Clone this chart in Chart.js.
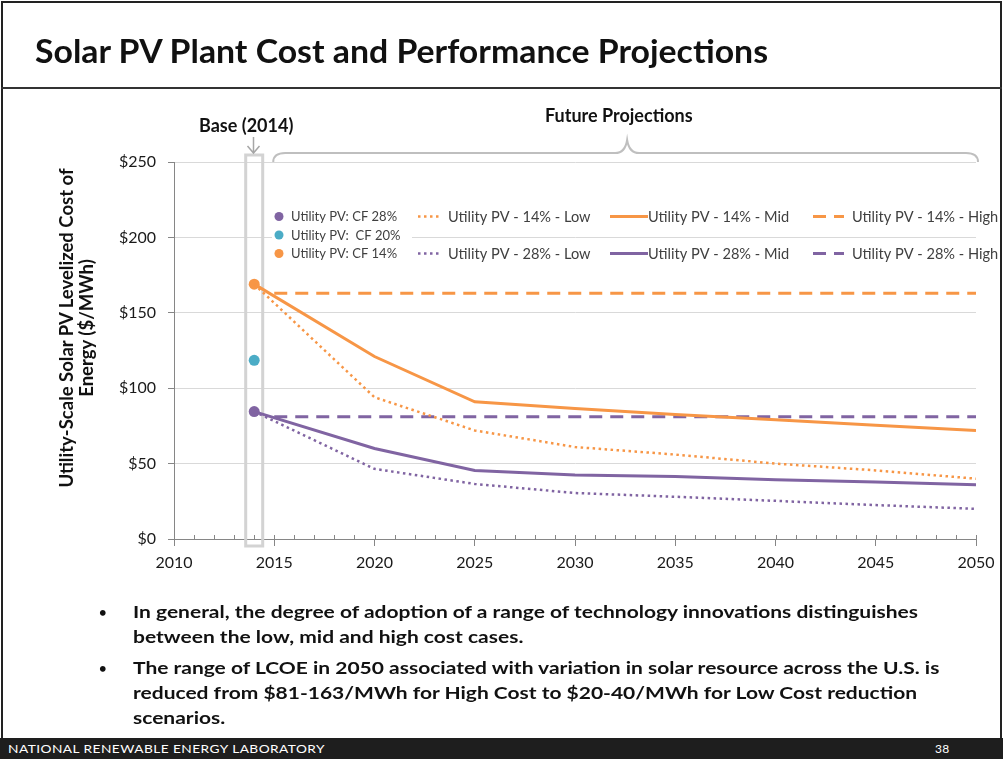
<!DOCTYPE html>
<html>
<head>
<meta charset="utf-8">
<script src="https://cdn.jsdelivr.net/npm/chart.js@4.4.1/dist/chart.umd.min.js"></script>
<style>
  html, body { margin: 0; padding: 0; background: #fff; }
  body { width: 1003px; height: 759px; position: relative; overflow: hidden; font-family: Lato, "Open Sans", sans-serif; color: #111; }
  #chartBox { position: absolute; left: 0; top: 0; width: 1003px; height: 759px; }
  .abs { position: absolute; white-space: nowrap; transform-origin: 0 50%; }
  .frame { position: absolute; background: #222; }
  .title { left: 35px; top: 30px; font-size: 33px; font-weight: 700; line-height: 40px; }
  .note { font-size: 18px; font-weight: 700; line-height: 20px; }
  .ytitle { left: -104px; top: 308px; width: 360px; text-align: center; font-size: 18.5px; font-weight: 700; line-height: 20px; transform: rotate(-90deg); transform-origin: 50% 50%; }
  .bul { font-size: 17px; font-weight: 700; line-height: 22px; }
  .dot { left: 99px; font-size: 13px; font-weight: 700; line-height: 22px; }
  #footer { position: absolute; left: 0; top: 738px; width: 1003px; height: 21px; background: #1e1e1e; }
  .foot { color: #fff; font-size: 12px; line-height: 21px; top: 738px; letter-spacing: 0.4px; }
</style>
</head>
<body>
<div class="frame" style="left:1px;top:1px;width:1001px;height:2px"></div>
<div class="frame" style="left:1px;top:1px;width:2px;height:738px"></div>
<div class="frame" style="left:1000px;top:1px;width:2px;height:738px"></div>
<div class="frame" style="left:1px;top:87px;width:1001px;height:2px;background:#333"></div>

<div id="chartBox"><canvas id="c" width="1003" height="759"></canvas></div>

<div class="abs title fit" data-w="733">Solar PV Plant Cost and Performance Projections</div>
<div class="abs note" style="left:199px;top:115px">Base (2014)</div>
<div class="abs note" style="left:545px;top:105px">Future Projections</div>
<div class="abs ytitle">Utility-Scale Solar PV Levelized Cost of<br>Energy ($/MWh)</div>

<div class="abs dot" style="top:601px">•</div>
<div class="abs bul fit" data-w="785" style="left:133px;top:601px">In general, the degree of adoption of a range of technology innovations distinguishes</div>
<div class="abs bul fitsame" style="left:133px;top:626px">between the low, mid and high cost cases.</div>
<div class="abs dot" style="top:657px">•</div>
<div class="abs bul fitsame" style="left:133px;top:657px">The range of LCOE in 2050 associated with variation in solar resource across the U.S. is</div>
<div class="abs bul fitsame" style="left:133px;top:682px">reduced from $81-163/MWh for High Cost to $20-40/MWh for Low Cost reduction</div>
<div class="abs bul fitsame" style="left:133px;top:707px">scenarios.</div>

<div id="footer"></div>
<div class="abs foot fit" data-w="317" style="left:8px">NATIONAL RENEWABLE ENERGY LABORATORY</div>
<div class="abs foot" style="left:935px">38</div>

<script>
// values ($/MWh)
const years = [2014, 2020, 2025, 2030, 2035, 2040, 2045, 2050];
const highYears = [2015, 2020, 2025, 2030, 2035, 2040, 2045, 2050];
const baseYear = 2014;

const base28 = 84.5;
const base20 = 118.5;
const base14 = 169;

const low14 = [169, 94, 72, 61, 56, 50, 45.5, 40];
const mid14 = [169, 121, 91, 86.5, 82.5, 79, 75.5, 72];
const high14 = [163, 163, 163, 163, 163, 163, 163, 163];

const low28 = [84.5, 46.5, 36.5, 30.5, 28, 25.3, 22.5, 20];
const mid28 = [84.5, 60, 45.5, 42.5, 41.5, 39.3, 37.8, 36];
const high28 = [81, 81, 81, 81, 81, 81, 81, 81];

const yTicks = [0, 50, 100, 150, 200, 250];
const xTicks = [2010, 2015, 2020, 2025, 2030, 2035, 2040, 2045, 2050];

const ORANGE = '#F79646';
const PURPLE = '#8064A2';
const CYAN = '#4BACC6';

const toPoints = (xs, ys) => xs.map((x, i) => ({ x: x, y: ys[i] }));

const lineDs = (label, xs, ys, color, style) => {
  const ds = {
    label: label,
    data: toPoints(xs, ys),
    showLine: true,
    borderColor: color,
    backgroundColor: color,
    pointRadius: 0,
    borderWidth: 3,
    tension: 0,
  };
  if (style == 'dot') {
    ds.borderWidth = 2.5;
    ds.borderDash = [2.5, 3.5];
  } else if (style == 'dash') {
    ds.borderDash = [13, 8];
  }
  return ds;
};

const pointDs = (label, y, color) => {
  return {
    label: label,
    data: [{ x: baseYear, y: y }],
    showLine: false,
    pointRadius: 5.5,
    pointBorderWidth: 0,
    backgroundColor: color,
    borderColor: color,
  };
};

const datasets = [
  lineDs('Utility PV - 14% - Low', years, low14, ORANGE, 'dot'),
  lineDs('Utility PV - 14% - Mid', years, mid14, ORANGE, 'solid'),
  lineDs('Utility PV - 14% - High', highYears, high14, ORANGE, 'dash'),
  lineDs('Utility PV - 28% - Low', years, low28, PURPLE, 'dot'),
  lineDs('Utility PV - 28% - Mid', years, mid28, PURPLE, 'solid'),
  lineDs('Utility PV - 28% - High', highYears, high28, PURPLE, 'dash'),
  pointDs('Utility PV: CF 28%', base28, PURPLE),
  pointDs('Utility PV:  CF 20%', base20, CYAN),
  pointDs('Utility PV: CF 14%', base14, ORANGE),
];

const decor = {
  id: 'decor',
  beforeDatasetsDraw(chart) {
    const { ctx, scales } = chart;
    const x = scales.x;
    const y = scales.y;
    const y0 = y.getPixelForValue(0);
    ctx.save();
    // minor / inside ticks
    ctx.strokeStyle = '#868686';
    ctx.lineWidth = 1;
    for (let yr = 2010; yr <= 2050; yr++) {
      const px = Math.round(x.getPixelForValue(yr)) + 0.5;
      ctx.beginPath();
      ctx.moveTo(px, y0 - 4);
      ctx.lineTo(px, y0);
      ctx.stroke();
    }
    // base year box
    const bx = x.getPixelForValue(baseYear);
    ctx.strokeStyle = '#d3d3d3';
    ctx.lineWidth = 3;
    ctx.strokeRect(bx - 8.5, y.getPixelForValue(250) - 7, 17, y0 - y.getPixelForValue(250) + 14);
    ctx.restore();
  },
  afterDraw(chart) {
    const { ctx, scales } = chart;
    const x = scales.x;
    const y = scales.y;
    const top = y.getPixelForValue(250);
    ctx.save();

    // arrow to base box
    const bx = Math.round(x.getPixelForValue(baseYear)) - 0.5;
    ctx.strokeStyle = '#a6a6a6';
    ctx.lineWidth = 1.5;
    ctx.beginPath();
    ctx.moveTo(bx, top - 25);
    ctx.lineTo(bx, top - 9);
    ctx.moveTo(bx - 6, top - 16);
    ctx.lineTo(bx, top - 9);
    ctx.lineTo(bx + 6, top - 16);
    ctx.stroke();

    // brace over future years
    const x1 = x.getPixelForValue(2015) - 1;
    const x2 = x.getPixelForValue(2050) + 2;
    const xm = x.getPixelForValue(2032.6);
    const yb = top - 9;
    ctx.strokeStyle = '#bfbfbf';
    ctx.lineWidth = 2;
    ctx.beginPath();
    ctx.moveTo(x1, top);
    ctx.quadraticCurveTo(x1, yb, x1 + 12, yb);
    ctx.lineTo(xm - 12, yb);
    ctx.quadraticCurveTo(xm - 2, yb, xm, top - 22);
    ctx.quadraticCurveTo(xm + 2, yb, xm + 12, yb);
    ctx.lineTo(x2 - 12, yb);
    ctx.quadraticCurveTo(x2, yb, x2, top);
    ctx.stroke();

    // legend
    ctx.textBaseline = 'middle';
    const rows = [216.5, 235, 253.5];
    ctx.fillStyle = '#fff';
    ctx.fillRect(272, 208, 140, 54);
    ctx.font = '13px Lato, "Open Sans", sans-serif';
    const pts = [datasets[6], datasets[7], datasets[8]];
    pts.forEach((ds, i) => {
      ctx.fillStyle = ds.backgroundColor;
      ctx.beginPath();
      ctx.arc(279, rows[i], 4.5, 0, Math.PI * 2);
      ctx.fill();
      ctx.fillStyle = '#404040';
      ctx.fillText(ds.label, 291, rows[i] + 0.5);
    });
    ctx.font = '14.6px Lato, "Open Sans", sans-serif';
    const cols = [
      { x1: 418, x2: 441, tx: 448 },
      { x1: 610, x2: 648, tx: 648 },
      { x1: 813, x2: 844, tx: 852 },
    ];
    [[0, 1, 2], [3, 4, 5]].forEach((grp, r) => {
      const ry = r == 0 ? rows[0] : rows[2];
      grp.forEach((di, c) => {
        const ds = datasets[di];
        ctx.strokeStyle = ds.borderColor;
        ctx.lineWidth = ds.borderWidth;
        ctx.setLineDash(ds.borderDash || []);
        ctx.beginPath();
        ctx.moveTo(cols[c].x1, ry);
        ctx.lineTo(cols[c].x2, ry);
        ctx.stroke();
        ctx.setLineDash([]);
        ctx.fillStyle = '#404040';
        ctx.fillText(ds.label, cols[c].tx, ry + 0.5);
      });
    });
    ctx.restore();
  },
};

new Chart(document.getElementById('c'), {
  type: 'scatter',
  data: { datasets: datasets },
  plugins: [decor],
  options: {
    responsive: false,
    animation: false,
    events: [],
    layout: { padding: { left: 0, top: 162, right: 27, bottom: 0 } },
    plugins: { legend: { display: false }, tooltip: { enabled: false } },
    scales: {
      x: {
        type: 'linear',
        min: 2010,
        max: 2050,
        afterFit: (s) => { s.height = 220; },
        afterBuildTicks: (s) => { s.ticks = xTicks.map((v) => ({ value: v })); },
        ticks: {
          padding: 7,
          color: '#1a1a1a',
          font: { family: 'Lato', size: 16 },
          callback: (v) => String(v),
        },
        grid: { drawOnChartArea: false, tickLength: 7, color: '#868686' },
        border: { color: '#868686' },
      },
      y: {
        min: 0,
        max: 250,
        afterFit: (s) => { s.width = 174; },
        afterBuildTicks: (s) => { s.ticks = yTicks.map((v) => ({ value: v })); },
        ticks: {
          padding: 12,
          color: '#1a1a1a',
          font: { family: 'Lato', size: 16 },
          callback: (v) => '$' + v,
        },
        grid: { color: '#d9d9d9', tickColor: '#868686', tickLength: 6 },
        border: { color: '#868686' },
      },
    },
  },
});

// squeeze the long texts to the widths in the picture
let lastScale = 1;
document.querySelectorAll('.fit, .fitsame').forEach((el) => {
  if (el.classList.contains('fit')) {
    lastScale = Number(el.dataset.w) / el.getBoundingClientRect().width;
  }
  el.style.transform = `scaleX(${lastScale})`;
});
</script>
</body>
</html>
